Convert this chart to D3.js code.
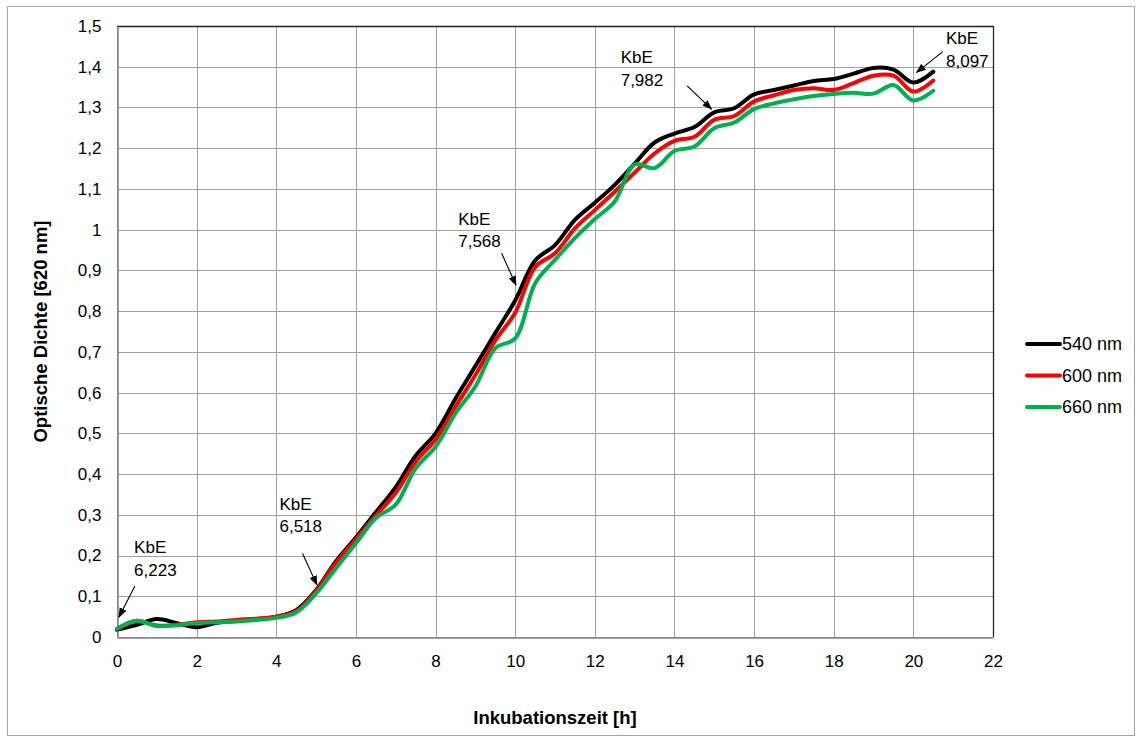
<!DOCTYPE html>
<html>
<head>
<meta charset="utf-8">
<script src="https://cdn.jsdelivr.net/npm/d3@7"></script>
<style>
  html, body { margin: 0; padding: 0; background: #fff; }
  svg { display: block; font-family: "Liberation Sans", Arial, sans-serif; }
</style>
</head>
<body>
<svg id="chart" width="1136" height="738"></svg>
<script>
// ---- data ----
const hours = [0,0.5,1,1.5,2,2.5,3,3.5,4,4.5,5,5.5,6,6.5,7,7.5,8,8.5,9,9.5,10,10.5,11,11.5,12,12.5,13,13.5,14,14.5,15,15.5,16,16.5,17,17.5,18,18.5,19,19.5,20,20.5];
const od540 = [0.018,0.030,0.044,0.034,0.024,0.035,0.040,0.044,0.050,0.066,0.115,0.186,0.244,0.306,0.368,0.445,0.500,0.585,0.665,0.746,0.826,0.924,0.962,1.024,1.066,1.110,1.162,1.214,1.236,1.252,1.288,1.298,1.332,1.343,1.354,1.365,1.370,1.383,1.397,1.393,1.361,1.388];
const od600 = [0.020,0.040,0.028,0.030,0.036,0.038,0.042,0.045,0.050,0.063,0.113,0.182,0.240,0.298,0.354,0.430,0.485,0.565,0.643,0.728,0.796,0.908,0.942,1.003,1.048,1.093,1.140,1.187,1.218,1.228,1.270,1.279,1.315,1.330,1.343,1.347,1.343,1.360,1.378,1.378,1.339,1.366];
const od660 = [0.020,0.040,0.027,0.029,0.035,0.036,0.038,0.042,0.047,0.060,0.107,0.169,0.230,0.292,0.325,0.414,0.467,0.549,0.615,0.709,0.733,0.868,0.926,0.979,1.026,1.069,1.160,1.151,1.193,1.204,1.249,1.263,1.296,1.310,1.320,1.328,1.333,1.336,1.334,1.355,1.317,1.341];
const seriesNames = ["540 nm","600 nm","660 nm"];
const seriesColors = ["#000000","#ff0000","#00b050"];
const xTicks = [0,2,4,6,8,10,12,14,16,18,20,22];
const yTicks = [0,0.1,0.2,0.3,0.4,0.5,0.6,0.7,0.8,0.9,1,1.1,1.2,1.3,1.4,1.5];
// annotations: text anchor (hour, OD), arrow tail and tip (hour, OD)
const annLabels = ["6,223","6,518","7,568","7,982","8,097"];
const annText  = [[0.43,0.206],[4.08,0.312],[8.57,1.012],[12.65,1.409],[20.82,1.455]];
const annTail  = [[0.45,0.125],[4.66,0.205],[9.66,0.942],[14.32,1.353],[20.74,1.437]];
const annTip   = [[0.05,0.049],[5.02,0.128],[10.02,0.864],[14.93,1.296],[20.08,1.386]];

(function(){
// ---- layout ----
const svg = d3.select("#chart");
const pL = 117, pR = 993, pT = 26, pB = 637;
const x = d3.scaleLinear().domain([0,22]).range([pL,pR]);
const y = d3.scaleLinear().domain([0,1.5]).range([pB,pT]);
const fmt = v => String(+v.toFixed(1)).replace(".", ",");

// outer frame
svg.append("rect").attr("x",7.5).attr("y",6.5).attr("width",1127).attr("height",729)
  .attr("fill","#fff").attr("stroke","#a6a6a6").attr("stroke-width",1);

// grid
const g = svg.append("g");
g.selectAll(".vg").data(xTicks).join("line")
  .attr("x1",d=>Math.round(x(d))+0.5).attr("x2",d=>Math.round(x(d))+0.5)
  .attr("y1",pT).attr("y2",pB).attr("stroke","#a0a0a0").attr("stroke-width",1);
g.selectAll(".hg").data(yTicks).join("line")
  .attr("y1",d=>Math.round(y(d))+0.5).attr("y2",d=>Math.round(y(d))+0.5)
  .attr("x1",pL).attr("x2",pR).attr("stroke","#a0a0a0").attr("stroke-width",1);

// plot border: top/right dark
svg.append("line").attr("x1",pL).attr("x2",pR+0.5).attr("y1",pT+0.5).attr("y2",pT+0.5).attr("stroke","#222").attr("stroke-width",1.3);
svg.append("line").attr("x1",pR+0.5).attr("x2",pR+0.5).attr("y1",pT).attr("y2",pB).attr("stroke","#222").attr("stroke-width",1.3);

// axes
const xAxis = svg.append("g").attr("transform",`translate(0,${Math.round(pB)+0.5})`)
  .call(d3.axisBottom(x).tickValues(xTicks).tickSize(0).tickPadding(17).tickFormat(d=>d));
const yAxis = svg.append("g").attr("transform",`translate(${pL+0.5},0)`)
  .call(d3.axisLeft(y).tickValues(yTicks).tickSize(0).tickPadding(16).tickFormat(fmt));
[xAxis,yAxis].forEach(a=>{
  a.select(".domain").attr("stroke","#808080").attr("stroke-width",1.5);
  a.selectAll("text").attr("font-size",17).attr("fill","#000").attr("font-family","Liberation Sans, Arial, sans-serif");
});

// lines
const data = [od540, od600, od660];
const line = d3.line().x((d,i)=>x(hours[i])).y(d=>y(d)).curve(d3.curveCatmullRom.alpha(0.5));
svg.append("g").selectAll("path").data(data).join("path")
  .attr("d",line).attr("fill","none")
  .attr("stroke",(d,i)=>seriesColors[i]).attr("stroke-width",4)
  .attr("stroke-linejoin","round").attr("stroke-linecap","round");

// annotations
const defs = svg.append("defs");
defs.append("marker").attr("id","arr").attr("viewBox","0 0 10 10").attr("refX",9).attr("refY",5)
  .attr("markerWidth",10).attr("markerHeight",10).attr("markerUnits","userSpaceOnUse").attr("orient","auto")
  .append("path").attr("d","M0,1.2 L10,5 L0,8.8 Z").attr("fill","#000");
const ann = svg.append("g");
annLabels.forEach((lab,i)=>{
  const t = ann.append("text").attr("x",x(annText[i][0])).attr("y",y(annText[i][1]))
    .attr("font-size",17).attr("fill","#000");
  t.append("tspan").attr("x",x(annText[i][0])).text("KbE");
  t.append("tspan").attr("x",x(annText[i][0])).attr("dy",22.5).text(lab);
  ann.append("line").attr("x1",x(annTail[i][0])).attr("y1",y(annTail[i][1]))
    .attr("x2",x(annTip[i][0])).attr("y2",y(annTip[i][1]))
    .attr("stroke","#000").attr("stroke-width",1.1).attr("marker-end","url(#arr)");
});

// axis titles
svg.append("text").attr("x",(pL+pR)/2).attr("y",724).attr("text-anchor","middle")
  .attr("font-size",18.5).attr("font-weight","bold").text("Inkubationszeit [h]");
svg.append("text").attr("transform",`translate(47,${(pT+pB)/2}) rotate(-90)`).attr("text-anchor","middle")
  .attr("font-size",18.5).attr("font-weight","bold").text("Optische Dichte [620 nm]");

// legend
const leg = svg.append("g");
seriesNames.forEach((n,i)=>{
  const yy = 344 + i*31.5;
  leg.append("line").attr("x1",1027).attr("x2",1060).attr("y1",yy).attr("y2",yy)
    .attr("stroke",seriesColors[i]).attr("stroke-width",4).attr("stroke-linecap","round");
  leg.append("text").attr("x",1062).attr("y",yy).attr("dy","0.36em").attr("font-size",18).text(n);
});
})();
</script>
</body>
</html>
